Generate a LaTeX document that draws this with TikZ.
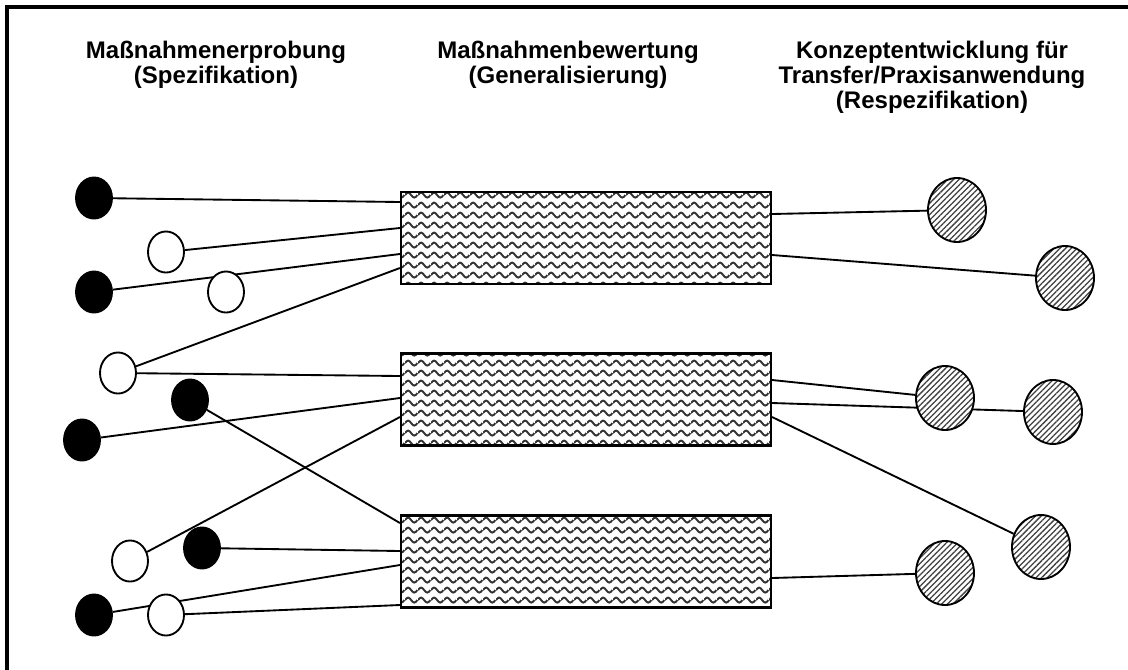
\documentclass[tikz,border=0pt]{standalone}
\usepackage{fontspec}
\setmainfont{Liberation Sans}
\usetikzlibrary{shapes.geometric, patterns.meta, backgrounds, positioning}
% wavy hatching of the evaluation boxes
\tikzdeclarepattern{
  name=wellen,
  type=uncolored,
  bounding box={(0pt,-3.7pt) and (9.5pt,3.7pt)},
  tile size={(9.5pt,7.4pt)},
  code={
    \draw[line width=1.45pt] (0pt,0pt) sin (2.375pt,1.9pt) cos (4.75pt,0pt) sin (7.125pt,-1.9pt) cos (9.5pt,0pt);
  }
}
\tikzset{
  massnahme/.style={ellipse, draw, line width=1.4pt, inner sep=0pt,
	minimum width=27pt, minimum height=30.8pt}, % small circles on the left
  voll/.style={massnahme, fill=black},
  leer/.style={massnahme, fill=white},
  bewertung/.style={rectangle, draw, line width=1.6pt, inner sep=0pt,
	minimum width=277.5pt, minimum height=69pt,
	preaction={fill=white}, pattern=wellen, pattern color=black!80},
  konzept/.style={ellipse, draw, line width=1.4pt, inner sep=0pt,
	minimum width=43.5pt, minimum height=48pt, preaction={fill=white},
	pattern={Lines[angle=45, distance=3pt, line width=0.95pt]}, pattern color=black!75},
  kopf/.style={font=\bfseries\fontsize{18}{18.75}\selectfont, align=center,
	anchor=north, inner sep=0pt},
  verbindung/.style={line width=1.4pt},
}

\begin{document}
\begin{tikzpicture}[x=0.75pt, y=-0.75pt]
	  \useasboundingbox (0,0) rectangle (1128,669);
	  \draw[line width=2.6pt] (7,690) -- (7,7) -- (1150,7);
	  % headings
	  \node[kopf] (kopf1) at (216,41) {Maßnahmenerprobung\\(Spezifikation)};
	  \node[kopf] (kopf2) at (568,41) {Maßnahmenbewertung\\(Generalisierung)};
	  \node[kopf] (kopf3) at (932,41) {Konzeptentwicklung für\\Transfer/Praxisanwendung\\(Respezifikation)};
	  % evaluation boxes
	  \node[bewertung] (b1) at (586,238) {};
	  \node[bewertung] (b2) at (586,399.5) {};
	  \node[bewertung] (b3) at (586,561.5) {};
	  % measures
	  \node[voll] (m1) at (94,198) {};
	  \node[leer] (m2) at (166,252) {};
	  \node[voll] (m3) at (94,292) {};
	  \node[leer] (m4) at (226,292) {};
	  \node[leer] (m5) at (118,373) {};
	  \node[voll] (m6) at (190,400) {};
	  \node[voll] (m7) at (82,440) {};
	  \node[leer] (m8) at (130,561) {};
	  \node[voll] (m9) at (202,548) {};
	  \node[voll] (m10) at (94,615) {};
	  \node[leer] (m11) at (166,615) {};
	  % concepts
	  \node[konzept] (k1) at (957,210) {};
	  \node[konzept] (k2) at (1065,278) {};
	  \node[konzept] (k3) at (945,398) {};
	  \node[konzept] (k4) at (1053,412) {};
	  \node[konzept] (k5) at (1041,547) {};
	  \node[konzept] (k6) at (945,573) {};
	  \begin{scope}[on background layer]
	  \draw[verbindung]   (m1) edge (b1.west |- 0,202)
		  (m2) edge (b1.west |- 0,228)
		  (m3) edge (b1.west |- 0,254)
		  (m5) edge (b1.west |- 0,268)
		  (m5) edge (b2.west |- 0,376)
		  (m7) edge (b2.west |- 0,398)
		  (m8) edge (b2.west |- 0,417)
		  (m6) edge (b3.west |- 0,523)
		  (m9) edge (b3.west |- 0,551)
		  (m10) edge (b3.west |- 0,565)
		  (m11) edge (b3.west |- 0,605)
		  (b1.east |- 0,214) edge (k1)
		  (b1.east |- 0,255) edge (k2)
		  (b2.east |- 0,380) edge (k3)
		  (b2.east |- 0,403) edge (k4)
		  (b2.east |- 0,417) edge (k5)
		  (b3.east |- 0,578) edge (k6)
	  ;
	  \end{scope}
	  \end{tikzpicture}
\end{document}
